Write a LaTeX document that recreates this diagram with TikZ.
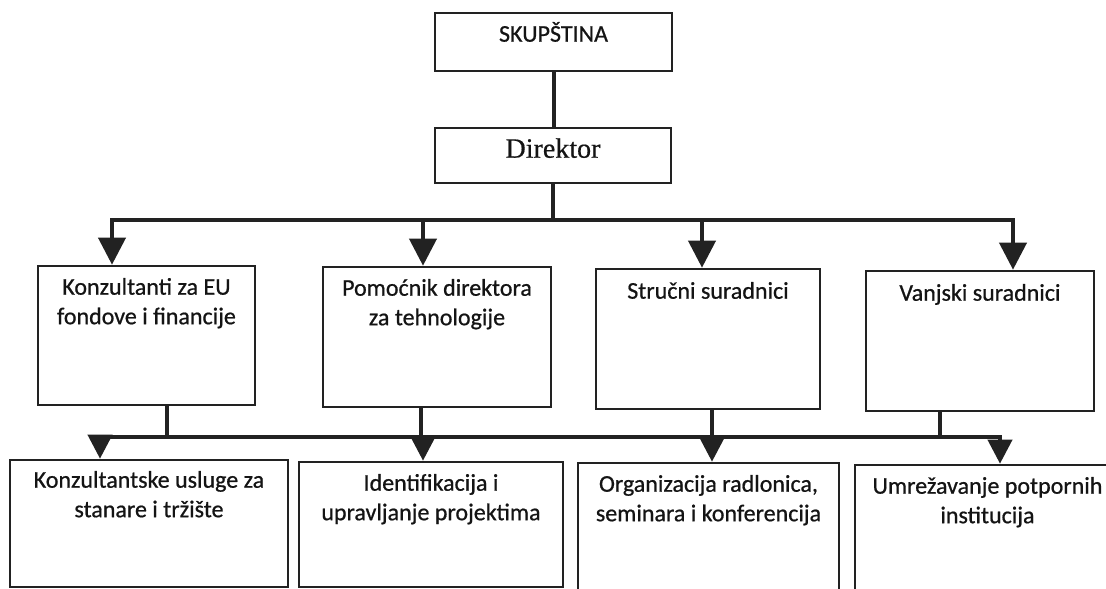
\documentclass[tikz,border=0pt]{standalone}
\usepackage{fontspec}
\setmainfont{Carlito}[FakeBold=0.7]
\newfontfamily\serifdir{Liberation Serif}[FakeBold=0.5]
\usetikzlibrary{arrows.meta}
\definecolor{ln}{HTML}{222222}
\definecolor{txt}{HTML}{141414}
\newcommand\ml[1]{\begin{tabular}[t]{@{}c@{}}#1\end{tabular}}
\begin{document}
\begin{tikzpicture}[x=1pt,y=-1pt,
  bx/.style={draw=ln, line width=2.6pt, inner sep=0pt, fill=white},
  lbl/.style={anchor=base, inner sep=0pt, text=txt, font=\fontsize{24}{29.5}\selectfont},
  cn/.style={draw=ln, line width=4pt, line cap=rect},
  arA/.style={draw=ln, line width=4pt, -{Triangle[width=27pt,length=27pt]}},
  arB/.style={draw=ln, line width=4pt, -{Triangle[width=24pt,length=24pt]}}]
\clip (0,0) rectangle (1106,589);
\fill[white] (0,0) rectangle (1106,589);
% boxes
\node[bx, minimum width=237pt, minimum height=58pt] (skup) at (553.5,42) {};
\node[bx, minimum width=236pt, minimum height=55pt] (dir) at (553,155.5) {};
\node[bx, minimum width=217pt, minimum height=139pt] (k1) at (146.5,335.5) {};
\node[bx, minimum width=228pt, minimum height=140pt] (k2) at (437,337) {};
\node[bx, minimum width=224pt, minimum height=140pt] (k3) at (708,339) {};
\node[bx, minimum width=228pt, minimum height=140pt] (k4) at (980,341) {};
\node[bx, minimum width=278pt, minimum height=127pt] (r1) at (149,523.5) {};
\node[bx, minimum width=264pt, minimum height=125pt] (r2) at (431,524.5) {};
\node[bx, minimum width=261pt, minimum height=145pt] (r3) at (708.5,535.5) {};
\node[bx, minimum width=265pt, minimum height=145pt] (r4) at (987.5,537.5) {};
% texts
\node[lbl] (skupT) at ([yshift=-30pt]skup.north) {SKUPŠTINA};
\node[lbl, font=\serifdir\fontsize{28}{32}\selectfont] (dirT) at ([yshift=-31pt]dir.north) {Direktor};
\node[lbl] (k1T) at ([yshift=-30pt]k1.north) {\ml{Konzultanti za EU\\fondove i financije}};
\node[lbl] (k2T) at ([yshift=-30pt]k2.north) {\ml{Pomoćnik direktora\\za tehnologije}};
\node[lbl] (k3T) at ([yshift=-31pt]k3.north) {Stručni suradnici};
\node[lbl] (k4T) at ([yshift=-31pt]k4.north) {Vanjski suradnici};
\node[lbl] (r1T) at ([yshift=-29pt]r1.north) {\ml{Konzultantske usluge za\\stanare i tržište}};
\node[lbl] (r2T) at ([yshift=-30pt]r2.north) {\ml{Identifikacija i\\upravljanje projektima}};
\node[lbl] (r3T) at ([yshift=-30pt]r3.north) {\ml{Organizacija radlonica,\\seminara i konferencija}};
\node[lbl] (r4T) at ([yshift=-30pt]r4.north) {\ml{Umrežavanje potpornih\\institucija}};
% bar coordinates
\coordinate (a1) at (112,220);
\coordinate (a2) at (423,220);
\coordinate (a3) at (702,220);
\coordinate (a4) at (1013,220);
\coordinate (d1) at (167,437);
\coordinate (d2) at (421,437);
\coordinate (d3) at (712,437);
\coordinate (d4) at (940,437);
\coordinate (e1) at (100,437);
\coordinate (e2) at (423,437);
\coordinate (e3) at (712,437);
\coordinate (e4) at (1000,437);
% connectors
\draw[cn] (skup.south) -- (skup.south |- dir.north);
\draw[cn] (dir.south) -- (dir.south |- a1);
\draw[cn] (a1) -- (a4);
\draw[arA] (a1) -- (a1 |- k1.north);
\draw[arA] (a2) -- (a2 |- k2.north);
\draw[arA] (a3) -- (a3 |- k3.north);
\draw[arA] (a4) -- (a4 |- k4.north);
\draw[cn] (d1 |- k1.south) -- (d1);
\draw[cn] (d2 |- k2.south) -- (d2);
\draw[cn] (d3 |- k3.south) -- (d3);
\draw[cn] (d4 |- k4.south) -- (d4);
\draw[cn] (e1) -- (e4);
\draw[arB] (e1) -- (e1 |- r1.north);
\draw[arB] (e2) -- (e2 |- r2.north);
\draw[arB] (e3) -- (e3 |- r3.north);
\draw[arB] (e4) -- (e4 |- r4.north);
\end{tikzpicture}
\end{document}
